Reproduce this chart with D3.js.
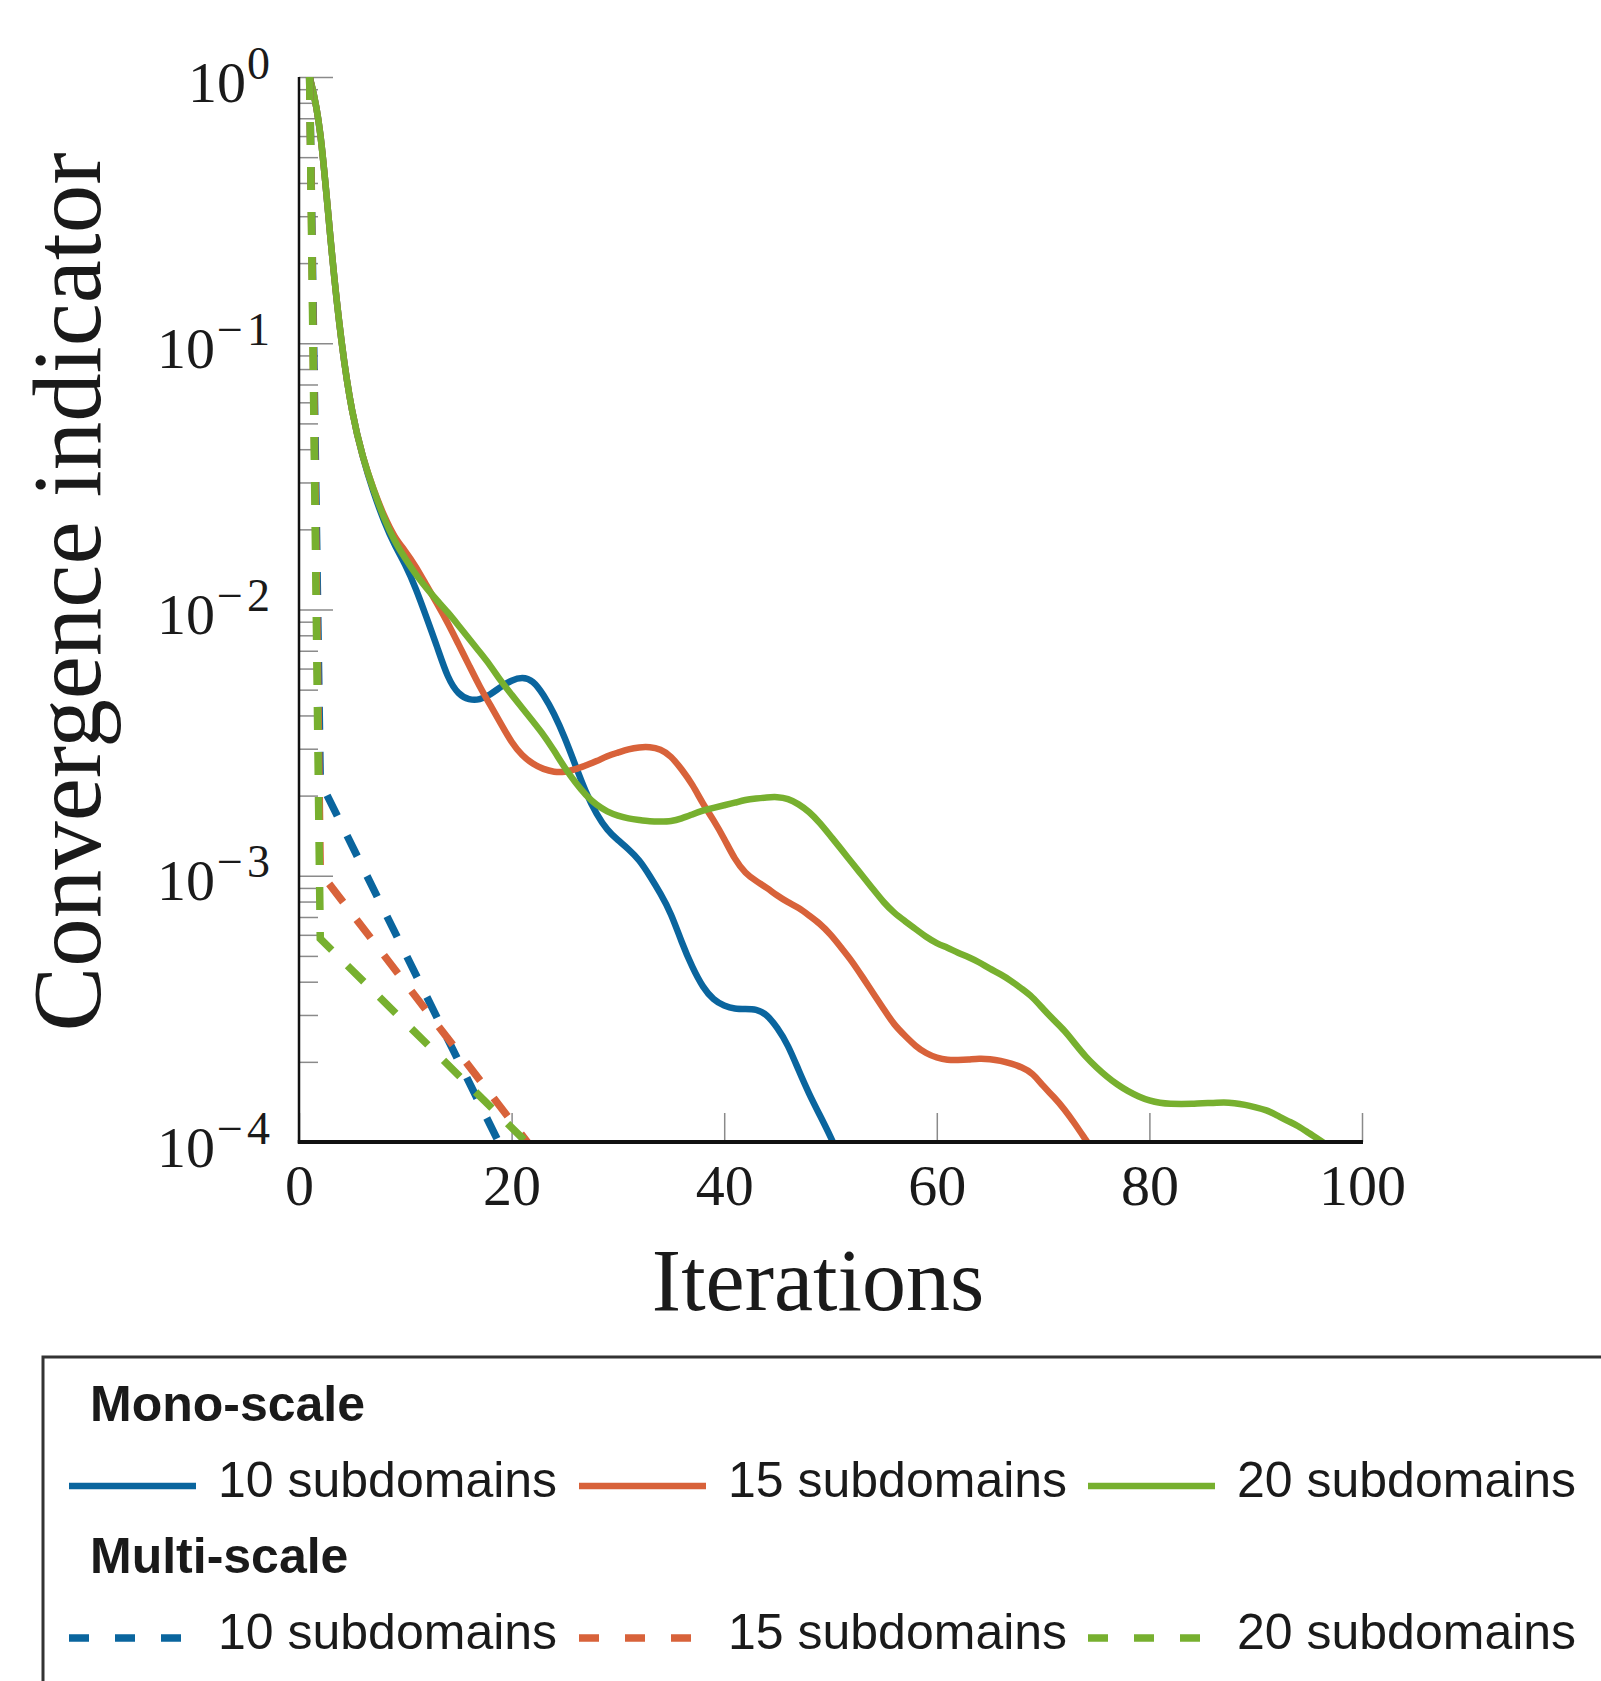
<!DOCTYPE html>
<html>
<head>
<meta charset="utf-8">
<script src="https://cdn.jsdelivr.net/npm/d3@7"></script>
<style>
  html, body { margin: 0; padding: 0; background: #ffffff; }
  svg { display: block; }
</style>
</head>
<body>
<svg id="chart" width="1601" height="1681"></svg>
<script>
// ---- Data: convergence indicator per iteration (iteration = index + 1) ----
// Mono-scale runs
const mono10 = [
  1, 0.692, 0.229, 0.0977, 0.0537, 0.0372, 0.0275, 0.0214, 0.0174, 0.0148,
  0.0120, 0.00933, 0.00724, 0.00550, 0.00479, 0.00457, 0.00457, 0.00479, 0.00513, 0.00543,
  0.00558, 0.00543, 0.00479, 0.00407, 0.00331, 0.00260, 0.00204, 0.00170, 0.00148, 0.00136,
  0.00126, 0.00115, 0.00100, 0.000859, 0.000724, 0.000562, 0.000452, 0.000380, 0.000341, 0.000324,
  0.000316, 0.000316, 0.000316, 0.000302, 0.000269, 0.000232, 0.000186, 0.000151, 0.000126, 0.000105,
  0.0000851
];
const mono15 = [
  1, 0.692, 0.229, 0.0977, 0.0537, 0.0372, 0.0282, 0.0224, 0.0186, 0.0166,
  0.0145, 0.0123, 0.0105, 0.00891, 0.00741, 0.00617, 0.00513, 0.00437, 0.00372, 0.00316,
  0.00282, 0.00263, 0.00251, 0.00245, 0.00245, 0.00251, 0.00260, 0.00269, 0.00282, 0.00290,
  0.00299, 0.00304, 0.00305, 0.00299, 0.00282, 0.00251, 0.00221, 0.00186, 0.00162, 0.00138,
  0.00115, 0.00102, 0.000955, 0.000902, 0.000841, 0.000794, 0.000759, 0.000708, 0.000661, 0.000603,
  0.000537, 0.000479, 0.000417, 0.000363, 0.000316, 0.000275, 0.000251, 0.000229, 0.000215, 0.000207,
  0.000203, 0.000203, 0.000204, 0.000206, 0.000205, 0.000202, 0.000197, 0.000191, 0.000182, 0.000162,
  0.000148, 0.000133, 0.000117, 0.000102, 0.0000891
];
const mono20 = [
  1, 0.692, 0.229, 0.0977, 0.0537, 0.0372, 0.0282, 0.0219, 0.0180, 0.0155,
  0.0135, 0.0120, 0.0108, 0.00977, 0.00871, 0.00776, 0.00692, 0.00617, 0.00537, 0.00479,
  0.00427, 0.00380, 0.00339, 0.00295, 0.00254, 0.00224, 0.00200, 0.00184, 0.00174, 0.00168,
  0.00164, 0.00162, 0.00160, 0.00160, 0.00160, 0.00164, 0.00170, 0.00176, 0.00180, 0.00184,
  0.00188, 0.00193, 0.00195, 0.00197, 0.00198, 0.00195, 0.00186, 0.00174, 0.00158, 0.00141,
  0.00126, 0.00112, 0.00100, 0.000891, 0.000794, 0.000724, 0.000676, 0.000631, 0.000589, 0.000557,
  0.000537, 0.000513, 0.000495, 0.000473, 0.000447, 0.000427, 0.000403, 0.000376, 0.000351, 0.000316,
  0.000287, 0.000263, 0.000234, 0.000209, 0.000191, 0.000176, 0.000164, 0.000155, 0.000148, 0.000143,
  0.000140, 0.000139, 0.000139, 0.000139, 0.000140, 0.000140, 0.000141, 0.000140, 0.000138, 0.000135,
  0.000132, 0.000126, 0.000120, 0.000115, 0.000108, 0.000102, 0.0000955
];

// Multi-scale runs (iteration, value)
const multi10Iter = [1, 2, 19];
const multi10 = [1, 0.00226, 0.000096];
const multi15Iter = [1, 2, 22];
const multi15 = [1, 0.00103, 0.000094];
const multi20Iter = [1, 2, 22];
const multi20 = [1, 0.00058, 0.0000945];

// Axis ticks and labels
const xTicks = [0, 20, 40, 60, 80, 100];
const yExponents = [0, -1, -2, -3, -4];
const seriesNames = ["10 subdomains", "15 subdomains", "20 subdomains"];
const groupTitles = ["Mono-scale", "Multi-scale"];
const colors = ["#0a659e", "#d8623a", "#77b02f"];

// ---- Layout ----
const W = 1601, H = 1681;
const plot = { left: 299, right: 1362, top: 77, bottom: 1142 };
const serif = "'Liberation Serif', 'Times New Roman', serif";
const sans = "'Liberation Sans', Arial, sans-serif";
const tickGray = "#8a8a8a";
const ink = "#1a1a1a";
const solidWidth = 6.5;
const dashWidth = 7.5;

const svg = d3.select("#chart");
svg.append("rect").attr("width", W).attr("height", H).attr("fill", "#fff");

const x = d3.scaleLinear().domain([0, 100]).range([plot.left, plot.right]);
const y = d3.scaleLog().domain([1e-4, 1]).range([plot.bottom, plot.top]);

// ---- Y axis: minor ticks ----
const minorVals = [];
for (let e = -4; e < 0; e++) {
  for (let m = 2; m <= 9; m++) minorVals.push(m * Math.pow(10, e));
}
const gMinor = svg.append("g")
  .attr("transform", `translate(${plot.left},0)`)
  .call(d3.axisLeft(y).tickValues(minorVals).tickSizeInner(-19).tickSizeOuter(0).tickFormat(""));
gMinor.select(".domain").remove();
gMinor.selectAll(".tick line").attr("stroke", tickGray).attr("stroke-width", 1.5);

// ---- Y axis: major ticks with 10^n labels ----
const gY = svg.append("g")
  .attr("transform", `translate(${plot.left},0)`)
  .call(d3.axisLeft(y)
    .tickValues(yExponents.map(e => Math.pow(10, e)))
    .tickSizeInner(-34).tickSizeOuter(0).tickPadding(29).tickFormat(""));
gY.select(".domain").remove();
gY.attr("font-family", serif).attr("font-size", 58);
gY.selectAll(".tick line").attr("stroke", tickGray).attr("stroke-width", 1.5);
gY.selectAll(".tick text").each(function (d, i) {
  const t = d3.select(this);
  const e = yExponents[i];
  t.text(null).attr("dy", null).attr("y", 24).attr("fill", ink).attr("text-anchor", "end");
  t.append("tspan").text("10");
  if (e === 0) {
    t.append("tspan").attr("font-size", 46).attr("dx", 1).attr("dy", -23).text("0");
  } else {
    t.append("tspan").attr("font-size", 46).attr("dx", 2).attr("dy", -23).text("\u2212");
    t.append("tspan").attr("font-size", 46).attr("dx", 4).text(String(Math.abs(e)));
  }
});

// ---- X axis ----
const gX = svg.append("g")
  .attr("transform", `translate(0,${plot.bottom})`)
  .call(d3.axisBottom(x).tickValues(xTicks).tickSizeInner(-29).tickSizeOuter(0)
    .tickPadding(22).tickFormat(d3.format("d")));
gX.select(".domain").remove();
gX.attr("font-family", serif).attr("font-size", 58);
gX.selectAll(".tick line").attr("stroke", tickGray).attr("stroke-width", 1.5);
gX.selectAll(".tick text").attr("fill", ink);

// ---- Curves ----
svg.append("clipPath").attr("id", "plotClip")
  .append("rect")
  .attr("x", plot.left).attr("y", plot.top)
  .attr("width", plot.right - plot.left).attr("height", plot.bottom - plot.top);

const curves = svg.append("g").attr("clip-path", "url(#plotClip)");

const smoothLine = d3.line()
  .x(d => x(d[0])).y(d => y(d[1]))
  .curve(d3.curveBasis);
const straightLine = d3.line()
  .x(d => x(d[0])).y(d => y(d[1]));

const monoSeries = [mono10, mono15, mono20];
monoSeries.forEach((vals, i) => {
  curves.append("path")
    .datum(vals.map((v, k) => [k + 1, v]))
    .attr("d", smoothLine)
    .attr("fill", "none")
    .attr("stroke", colors[i])
    .attr("stroke-width", solidWidth)
    .attr("stroke-linejoin", "round");
});

const multiSeries = [
  [multi10Iter, multi10],
  [multi15Iter, multi15],
  [multi20Iter, multi20]
];
multiSeries.forEach(([its, vals], i) => {
  curves.append("path")
    .datum(its.map((it, k) => [it, vals[k]]))
    .attr("d", straightLine)
    .attr("fill", "none")
    .attr("stroke", colors[i])
    .attr("stroke-width", dashWidth)
    .attr("stroke-dasharray", "23,22");
});

// ---- Axis lines ----
svg.append("line")
  .attr("x1", plot.left).attr("x2", plot.left)
  .attr("y1", plot.top).attr("y2", plot.bottom + 1)
  .attr("stroke", "#111").attr("stroke-width", 2.5);
svg.append("line")
  .attr("x1", plot.left - 1.25).attr("x2", plot.right + 1)
  .attr("y1", plot.bottom).attr("y2", plot.bottom)
  .attr("stroke", "#111").attr("stroke-width", 4);

// ---- Axis titles ----
svg.append("text")
  .attr("transform", "translate(100,592) rotate(-90)")
  .attr("text-anchor", "middle")
  .attr("font-family", serif).attr("font-size", 97)
  .attr("fill", ink)
  .text("Convergence indicator");

svg.append("text")
  .attr("x", 818).attr("y", 1310)
  .attr("text-anchor", "middle")
  .attr("font-family", serif).attr("font-size", 88)
  .attr("fill", ink)
  .text("Iterations");

// ---- Legend ----
const legend = svg.append("g");
legend.append("rect")
  .attr("x", 43).attr("y", 1357)
  .attr("width", 1700).attr("height", 500)
  .attr("fill", "#fff")
  .attr("stroke", "#333").attr("stroke-width", 3);

const groupTop = [1421, 1573];
const colStart = [69, 579, 1088];
const lineLen = 127;
groupTitles.forEach((title, gi) => {
  legend.append("text")
    .attr("x", 90).attr("y", groupTop[gi])
    .attr("font-family", sans).attr("font-size", 50).attr("font-weight", "bold")
    .attr("fill", ink)
    .text(title);
  const rowBase = groupTop[gi] + 76;
  seriesNames.forEach((name, si) => {
    const x0 = colStart[si];
    const ln = legend.append("line")
      .attr("x1", x0).attr("x2", x0 + lineLen)
      .attr("y1", rowBase - 11).attr("y2", rowBase - 11)
      .attr("stroke", colors[si]);
    if (gi === 0) {
      ln.attr("stroke-width", solidWidth);
    } else {
      ln.attr("stroke-width", dashWidth).attr("stroke-dasharray", "20,26");
    }
    legend.append("text")
      .attr("x", x0 + lineLen + 22).attr("y", rowBase)
      .attr("font-family", sans).attr("font-size", 50)
      .attr("fill", ink)
      .text(name);
  });
});
</script>
</body>
</html>
